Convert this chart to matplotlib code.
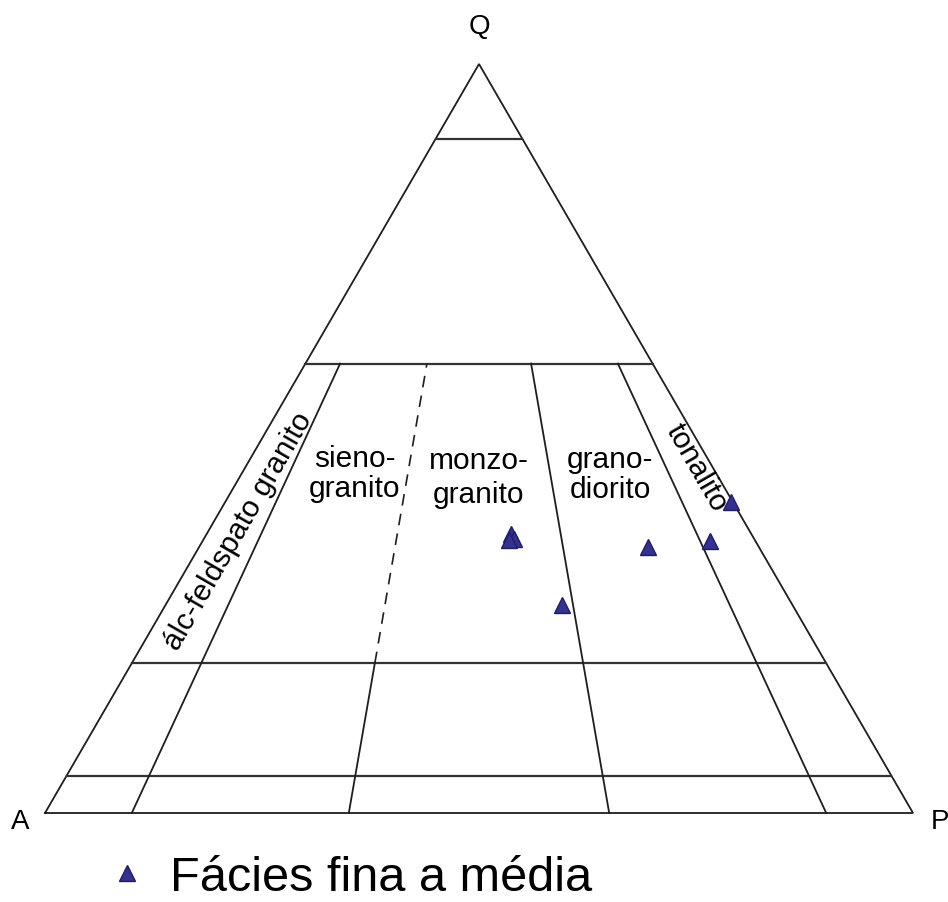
import numpy as np
import matplotlib
matplotlib.use("Agg")
import matplotlib.pyplot as plt
from matplotlib.lines import Line2D

plt.rcParams['font.family'] = ['Liberation Sans', 'DejaVu Sans']

# ---- data (modal %, Q-A-P) ----
sample_Q = [41.5, 36.3, 35.5, 27.8, 37.2, 36.6, 36.5]
sample_A = [0.2, 5.2, 12.8, 26.5, 27.7, 27.7, 28.3]
sample_P = [58.3, 58.5, 51.7, 45.7, 35.1, 35.7, 35.2]
legend_label = "Fácies fina a média"

# field boundaries
q_levels = [90, 60, 20, 5]               # horizontal Q lines (%)
ratio_solid = [0.10, 0.65, 0.90]         # P/(A+P) lines from Q=0 to Q=60
ratio_dashed = 0.35                      # solid Q 0-20, dashed Q 20-60

H = np.sqrt(3) / 2


def tern(q, a, p):
    q = np.asarray(q, float); a = np.asarray(a, float); p = np.asarray(p, float)
    s = q + a + p
    q, p = q / s, p / s
    return p + q / 2, q * H


def ratio_point(r, q):
    q = q / 100.0
    return tern(q, (1 - q) * (1 - r), (1 - q) * r)


W, Hpx = 948, 903
fig = plt.figure(figsize=(W / 100, Hpx / 100), dpi=100)
fig.patch.set_facecolor('white')
ax = fig.add_axes([0, 0, 1, 1])
ax.set_axis_off()

# pixel mapping: A at (45,814), P at (913,814), Q apex at y=65
sx = 868.0
sy = 749.0 / H
ax.set_xlim(-45 / sx, (W - 45) / sx)
ax.set_ylim(-(Hpx - 814) / sy, 814 / sy)


def px(x, y):
    return (x - 45) / sx, (814 - y) / sy


lc = '#1e1e1e'
lw = 1.3

# outline
ox, oy = tern([0, 0, 100, 0], [100, 0, 0, 100], [0, 100, 0, 0])
ax.plot(ox, oy, color=lc, lw=lw, solid_joinstyle='miter')

# horizontal lines
for ql in q_levels:
    x0, y0 = ratio_point(0.0, ql)
    x1, y1 = ratio_point(1.0, ql)
    ax.plot([x0, x1], [y0, y1], color='#333333', lw=1.6)

# ratio lines
for r in ratio_solid:
    x0, y0 = ratio_point(r, 0)
    x1, y1 = ratio_point(r, 60)
    ax.plot([x0, x1], [y0, y1], color=lc, lw=lw)

x0, y0 = ratio_point(ratio_dashed, 0)
x1, y1 = ratio_point(ratio_dashed, 20)
x2, y2 = ratio_point(ratio_dashed, 60)
ax.plot([x0, x1], [y0, y1], color=lc, lw=lw)
ax.plot([x1, x2], [y1, y2], color=lc, lw=1.2, dashes=(7, 5))

# data points
mx, my = tern(sample_Q, sample_A, sample_P)
ax.plot(mx, my, linestyle='none', marker='^', markersize=12,
        markerfacecolor='#34318f', markeredgecolor='#1f1d6b', markeredgewidth=1.0,
        zorder=5)

# vertex labels
ax.text(*px(479, 27), 'Q', fontsize=20, ha='center', va='center')
ax.text(*px(20, 822), 'A', fontsize=20, ha='center', va='center')
ax.text(*px(931, 822), 'P', fontsize=20, ha='left', va='center')

# field labels
fs = 21.5
ax.text(*px(355, 474), 'sieno-\ngranito', fontsize=fs, ha='center', va='center',
        linespacing=1.1)
ax.text(*px(479, 478), 'monzo-\ngranito', fontsize=fs, ha='center', va='center',
        linespacing=1.25)
ax.text(*px(610, 475), 'grano-\ndiorito', fontsize=fs, ha='center', va='center',
        linespacing=1.1)
ax.text(*px(697, 468), 'tonalito', fontsize=fs, ha='center', va='center',
        rotation=-60, rotation_mode='anchor')
ax.text(*px(238, 531), 'álc-feldspato granito', fontsize=fs, ha='center',
        va='center', rotation=60, rotation_mode='anchor')

# legend
handle = Line2D([], [], linestyle='none', marker='^', markersize=11,
                markerfacecolor='#34318f', markeredgecolor='#1f1d6b')
fig.legend([handle], [legend_label], loc='center left',
           bbox_to_anchor=(112 / W, 1 - 879 / Hpx), frameon=False,
           fontsize=35, handlelength=0.6, handletextpad=0.6,
           borderpad=0, borderaxespad=0)

fig.savefig('out.png', dpi=100, facecolor='white')
